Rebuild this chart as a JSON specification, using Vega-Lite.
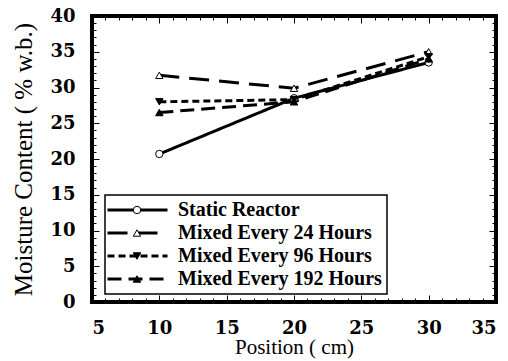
{
  "$schema": "https://vega.github.io/schema/vega-lite/v6.json",
  "width": 404,
  "height": 286,
  "autosize": "none",
  "padding": {"left": 92, "top": 16, "right": 12, "bottom": 59},
  "background": "white",
  "config": {
    "font": "Liberation Serif",
    "view": {"stroke": "black", "strokeWidth": 4},
    "axis": {"grid": false, "domain": false, "tickColor": "black", "labelColor": "black", "titleColor": "black", "labelFont": "DejaVu Serif", "titleFont": "Liberation Serif"}
  },
  "data": {
    "values": [
      {"pos": 10, "mc": 20.7, "series": "Static Reactor", "marker": "S"},
      {"pos": 20, "mc": 28.5, "series": "Static Reactor", "marker": "S"},
      {"pos": 30, "mc": 33.5, "series": "Static Reactor", "marker": "S"},
      {"pos": 10, "mc": 31.7, "series": "Mixed Every 24 Hours", "marker": "M24"},
      {"pos": 20, "mc": 29.9, "series": "Mixed Every 24 Hours", "marker": "M24"},
      {"pos": 30, "mc": 35.0, "series": "Mixed Every 24 Hours", "marker": "M24"},
      {"pos": 10, "mc": 28.0, "series": "Mixed Every 96 Hours", "marker": "M96"},
      {"pos": 20, "mc": 28.3, "series": "Mixed Every 96 Hours", "marker": "M96"},
      {"pos": 30, "mc": 34.3, "series": "Mixed Every 96 Hours", "marker": "M96"},
      {"pos": 10, "mc": 26.5, "series": "Mixed Every 192 Hours", "marker": "M192"},
      {"pos": 20, "mc": 28.0, "series": "Mixed Every 192 Hours", "marker": "M192"},
      {"pos": 30, "mc": 34.0, "series": "Mixed Every 192 Hours", "marker": "M192"}
    ]
  },
  "resolve": {"axis": {"x": "independent", "y": "independent"}},
  "layer": [
    {
      "mark": {"type": "line", "strokeWidth": 3, "color": "black"},
      "encoding": {
        "x": {"field": "pos", "type": "quantitative", "scale": {"domain": [5, 35], "nice": false, "zero": false},
          "axis": {"orient": "bottom", "values": [5, 10, 15, 20, 25, 30, 35], "tickSize": -7, "tickWidth": 1, "labelPadding": 24, "labelFontSize": 18, "labelFontWeight": "bold", "title": "Position ( cm)", "titleFontSize": 21, "titleFontWeight": "normal", "titlePadding": -1}},
        "y": {"field": "mc", "type": "quantitative", "scale": {"domain": [0, 40], "nice": false},
          "axis": {"orient": "left", "values": [0, 5, 10, 15, 20, 25, 30, 35, 40], "tickSize": -7, "tickWidth": 1, "labelPadding": 24, "labelFontSize": 18, "labelFontWeight": "bold", "title": "Moisture Content ( % w.b.)", "titleFontSize": 25, "titleFontWeight": "normal", "titlePadding": 13}},
        "strokeDash": {"field": "series", "type": "nominal",
          "scale": {"domain": ["Static Reactor", "Mixed Every 24 Hours", "Mixed Every 96 Hours", "Mixed Every 192 Hours"], "range": [[1, 0], [20, 10], [7, 4], [14, 7]]},
          "legend": {"orient": "none", "legendX": 13, "legendY": 179, "zindex": 1, "title": null, "symbolType": "M-5,0H19", "symbolSize": 25, "symbolStrokeWidth": 3, "symbolStrokeColor": "black", "symbolFillColor": "transparent", "labelFontSize": 20, "labelFontWeight": "bold", "labelColor": "black", "labelOffset": 48, "labelLimit": 400, "fillColor": "white", "strokeColor": "black", "padding": 5, "rowPadding": 3, "cornerRadius": 0,
            "encode": {"legend": {"update": {"strokeWidth": {"value": 1.5}}}, "symbols": {"update": {"shape": {"value": "M-5,0H19"}, "size": {"value": 25}}}}}}
      }
    },
    {
      "mark": {"type": "point", "filled": true, "size": 55, "strokeWidth": 1, "opacity": 1},
      "encoding": {
        "x": {"field": "pos", "type": "quantitative",
          "axis": {"orient": "top", "values": [5, 10, 15, 20, 25, 30, 35], "tickSize": -7, "tickWidth": 1, "labels": false, "title": null}},
        "y": {"field": "mc", "type": "quantitative",
          "axis": {"orient": "right", "values": [0, 5, 10, 15, 20, 25, 30, 35, 40], "tickSize": -7, "tickWidth": 1, "labels": false, "title": null}},
        "shape": {"field": "marker", "type": "nominal",
          "scale": {"domain": ["S", "M24", "M96", "M192"], "range": ["circle", "triangle-up", "triangle-down", "triangle-up"]},
          "legend": {"orient": "none", "legendX": 13, "legendY": 179, "zindex": 2, "title": null, "symbolSize": 55, "symbolStrokeWidth": 1, "symbolOffset": 17, "labelFontSize": 20, "labelFontWeight": "bold", "labelColor": "transparent", "labelOffset": 48, "labelLimit": 400, "padding": 5, "rowPadding": 3}},
        "fill": {"field": "marker", "type": "nominal",
          "scale": {"domain": ["S", "M24", "M96", "M192"], "range": ["white", "white", "black", "black"]},
          "legend": {"orient": "none", "legendX": 13, "legendY": 179, "zindex": 2, "title": null, "symbolSize": 55, "symbolStrokeWidth": 1, "symbolOffset": 17, "labelFontSize": 20, "labelFontWeight": "bold", "labelColor": "transparent", "labelOffset": 48, "labelLimit": 400, "padding": 5, "rowPadding": 3}},
        "stroke": {"field": "marker", "type": "nominal",
          "scale": {"domain": ["S", "M24", "M96", "M192"], "range": ["black", "black", "black", "black"]},
          "legend": {"orient": "none", "legendX": 13, "legendY": 179, "zindex": 2, "title": null, "symbolSize": 55, "symbolStrokeWidth": 1, "symbolOffset": 17, "labelFontSize": 20, "labelFontWeight": "bold", "labelColor": "transparent", "labelOffset": 48, "labelLimit": 400, "padding": 5, "rowPadding": 3}}
      }
    },
    {
      "mark": {"type": "point", "opacity": 0},
      "encoding": {
        "x": {"field": "pos", "type": "quantitative",
          "axis": {"orient": "bottom", "values": [6,7,8,9,11,12,13,14,16,17,18,19,21,22,23,24,26,27,28,29,31,32,33,34], "tickSize": -4, "tickWidth": 1, "labels": false, "title": null}},
        "y": {"field": "mc", "type": "quantitative",
          "axis": {"orient": "left", "values": [1,2,3,4,6,7,8,9,11,12,13,14,16,17,18,19,21,22,23,24,26,27,28,29,31,32,33,34,36,37,38,39], "tickSize": -4, "tickWidth": 1, "labels": false, "title": null}},
        "opacity": {"field": "pos", "type": "ordinal",
          "scale": {"domain": [10, 20, 30], "range": [0, 0, 0]},
          "legend": {"orient": "none", "legendX": 17, "legendY": 183, "zindex": 0, "title": null, "symbolSize": 400, "symbolOpacity": 0, "labelExpr": "'Mixed Every 192 Hours'", "labelFontSize": 20, "labelFontWeight": "bold", "labelColor": "transparent", "labelOffset": 33, "labelLimit": 400, "fillColor": "black", "strokeColor": "black", "padding": 5, "rowPadding": 14, "cornerRadius": 0}}
      }
    },
    {
      "mark": {"type": "point", "opacity": 0},
      "encoding": {
        "x": {"field": "pos", "type": "quantitative",
          "axis": {"orient": "top", "values": [6,7,8,9,11,12,13,14,16,17,18,19,21,22,23,24,26,27,28,29,31,32,33,34], "tickSize": -4, "tickWidth": 1, "labels": false, "title": null}},
        "y": {"field": "mc", "type": "quantitative",
          "axis": {"orient": "right", "values": [1,2,3,4,6,7,8,9,11,12,13,14,16,17,18,19,21,22,23,24,26,27,28,29,31,32,33,34,36,37,38,39], "tickSize": -4, "tickWidth": 1, "labels": false, "title": null}}
      }
    }
  ]
}
